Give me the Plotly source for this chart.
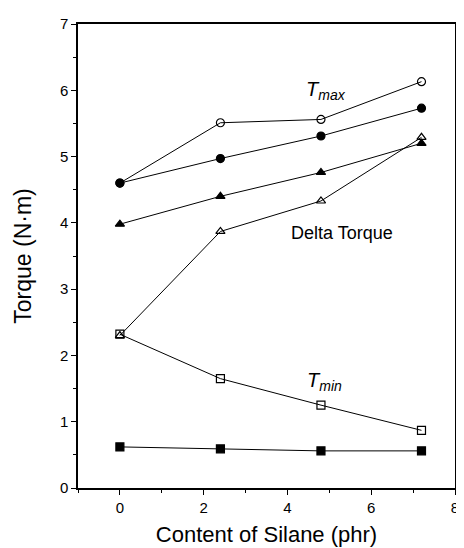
import plotly.graph_objects as go

silane = [0, 2.4, 4.8, 7.2]
tmax_open = [4.60, 5.51, 5.56, 6.13]
tmax_filled = [4.60, 4.97, 5.31, 5.73]
delta_filled = [3.98, 4.40, 4.76, 5.20]
delta_open = [2.30, 3.87, 4.33, 5.29]
tmin_open = [2.32, 1.65, 1.25, 0.87]
tmin_filled = [0.62, 0.59, 0.56, 0.56]

series = [
    (tmax_open, "circle-open"),
    (tmax_filled, "circle"),
    (delta_filled, "triangle-up"),
    (delta_open, "triangle-up-open"),
    (tmin_open, "square-open"),
    (tmin_filled, "square"),
]

fig = go.Figure()
for ys, sym in series:
    fig.add_trace(go.Scatter(
        x=silane, y=ys, mode="lines+markers",
        line=dict(color="black", width=1),
        marker=dict(symbol=sym, size=8, color="black",
                    line=dict(color="black", width=1.2)),
        showlegend=False,
    ))

font = "Liberation Sans, Arial, sans-serif"
fig.add_annotation(x=4.4, y=6.0, xanchor="left", text="<i>T<sub>max</sub></i>", showarrow=False,
                   font=dict(family=font, size=20, color="black"))
fig.add_annotation(x=5.3, y=3.85, text="Delta Torque", showarrow=False,
                   font=dict(family=font, size=18, color="black"))
fig.add_annotation(x=4.42, y=1.6, xanchor="left", text="<i>T<sub>min</sub></i>", showarrow=False,
                   font=dict(family=font, size=20, color="black"))

axis_common = dict(showgrid=False, zeroline=False, showline=True, linecolor="black",
                   linewidth=1.5, mirror=True, ticks="outside", tickcolor="black",
                   ticklen=5, tickwidth=1.2,
                   tickfont=dict(family=font, size=15, color="black"))
fig.update_xaxes(range=[-1, 8], dtick=2, tick0=0,
                 minor=dict(dtick=1, ticks="outside", ticklen=3, tickcolor="black"),
                 title=dict(text="Content of Silane (phr)", font=dict(family=font, size=22, color="black"), standoff=12),
                 **axis_common)
fig.update_yaxes(range=[0, 7], dtick=1, tick0=0,
                 minor=dict(dtick=0.5, ticks="outside", ticklen=3, tickcolor="black"),
                 title=dict(text="Torque (N·m)", font=dict(family=font, size=23, color="black"), standoff=22),
                 **axis_common)

# page body has an 8px margin; compensate so the plot area lands where the reference has it
fig.update_layout(width=456, height=540, margin=dict(l=70, r=5, t=16, b=51),
                  paper_bgcolor="white", plot_bgcolor="white")
fig.write_html("out.html")
